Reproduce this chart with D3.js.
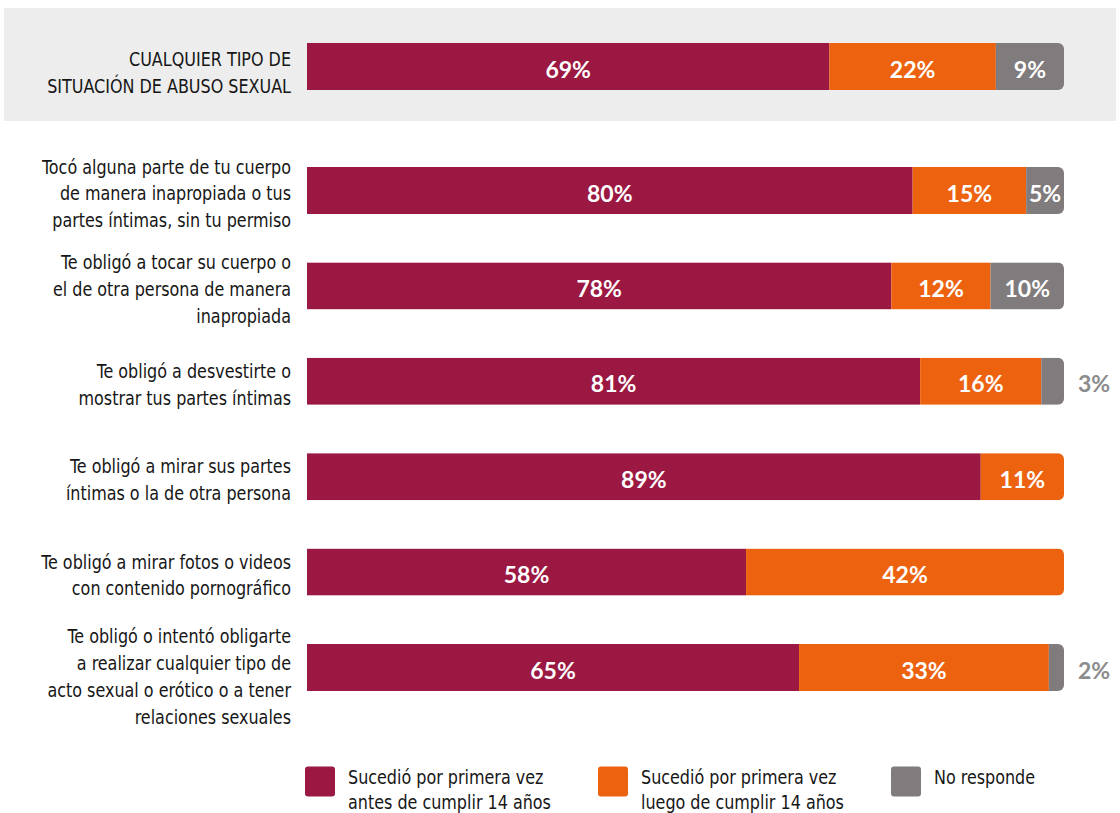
<!DOCTYPE html>
<html>
<head>
<meta charset="utf-8">
<script src="https://cdn.jsdelivr.net/npm/d3@7"></script>
<style>
  html, body { margin: 0; padding: 0; background: #ffffff; }
  svg { display: block; }
  .cat { font-family: "DejaVu Sans Condensed", "Liberation Sans Narrow", "Noto Sans", sans-serif; fill: #161616; }
  .val { font-family: Lato, "Open Sans", sans-serif; font-weight: 700; }
</style>
</head>
<body>
<svg id="chart" width="1120" height="813"></svg>
<script>
// ---- Data ----
const categories = [
  ["CUALQUIER TIPO DE", "SITUACIÓN DE ABUSO SEXUAL"],
  ["Tocó alguna parte de tu cuerpo", "de manera inapropiada o tus", "partes íntimas, sin tu permiso"],
  ["Te obligó a tocar su cuerpo o", "el de otra persona de manera", "inapropiada"],
  ["Te obligó a desvestirte o", "mostrar tus partes íntimas"],
  ["Te obligó a mirar sus partes", "íntimas o la de otra persona"],
  ["Te obligó a mirar fotos o videos", "con contenido pornográfico"],
  ["Te obligó o intentó obligarte", "a realizar cualquier tipo de", "acto sexual o erótico o a tener", "relaciones sexuales"]
];
// bar lengths as drawn (percent)
const antes14  = [69, 80, 77.2, 81, 89, 58, 65];
const luego14  = [22, 15, 13.1, 16, 11, 42, 33];
const noResp   = [9, 5, 9.7, 3, 0, 0, 2];
// printed labels
const antes14Labels = ["69%", "80%", "78%", "81%", "89%", "58%", "65%"];
const luego14Labels = ["22%", "15%", "12%", "16%", "11%", "42%", "33%"];
const noRespLabels  = ["9%", "5%", "10%", "3%", "", "", "2%"];
const seriesNames = [
  ["Sucedió por primera vez", "antes de cumplir 14 años"],
  ["Sucedió por primera vez", "luego de cumplir 14 años"],
  ["No responde"]
];
const colors = ["#9B1842", "#EC620F", "#807B7C"];

// ---- Layout ----
const svg = d3.select("#chart");
const x = d3.scaleLinear().domain([0, 100]).range([307, 1064]);
const barH = 47;
const yRest = d3.scalePoint().domain(d3.range(1, categories.length)).range([190.5, 667.5]);
const yCenter = i => i === 0 ? 66.5 : yRest(i);
const squeeze = 0.935;

// highlight band for the total row
svg.append("rect").attr("x", 4).attr("y", 8).attr("width", 1112).attr("height", 113).attr("fill", "#EDEDED");

const labelSets = [antes14Labels, luego14Labels, noRespLabels];
const rows = categories.map((c, i) => {
  const vals = [antes14[i], luego14[i], noResp[i]];
  let acc = 0;
  const segs = vals.map((v, k) => { const s = { k, v, x0: acc, x1: acc + v, label: labelSets[k][i] }; acc += v; return s; });
  return { i, label: c, segs };
});

const defs = svg.append("defs");
const r = 6;
rows.forEach(row => {
  const y0 = yCenter(row.i) - barH / 2;
  const xl = x(0), xr = x(100);
  const p = d3.path();
  p.moveTo(xl, y0);
  p.lineTo(xr - r, y0);
  p.arcTo(xr, y0, xr, y0 + r, r);
  p.lineTo(xr, y0 + barH - r);
  p.arcTo(xr, y0 + barH, xr - r, y0 + barH, r);
  p.lineTo(xl, y0 + barH);
  p.closePath();
  defs.append("clipPath").attr("id", "clip" + row.i).append("path").attr("d", p.toString());
});

const g = svg.selectAll("g.row").data(rows).enter().append("g").attr("class", "row");

g.append("g").attr("clip-path", d => `url(#clip${d.i})`)
  .selectAll("rect").data(d => d.segs.filter(s => s.v > 0).map(s => ({ ...s, i: d.i })))
  .enter().append("rect")
  .attr("x", s => x(s.x0))
  .attr("width", s => x(s.x1) - x(s.x0))
  .attr("y", s => yCenter(s.i) - barH / 2)
  .attr("height", barH)
  .attr("fill", s => colors[s.k]);

// value labels
g.selectAll("text.val").data(d => d.segs.filter(s => s.v > 0).map(s => ({ ...s, i: d.i })))
  .enter().append("text")
  .attr("class", "val")
  .attr("font-size", 23)
  .attr("text-anchor", "middle")
  .attr("x", s => s.v < 4 ? x(100) + 30 : (x(s.x0) + x(s.x1)) / 2)
  .attr("y", s => yCenter(s.i) + 11)
  .attr("fill", s => s.v < 4 ? "#8C8C8C" : "#ffffff")
  .text(s => s.label);

// category labels
const lh = 26.8;
g.append("g")
  .attr("transform", `translate(291,0) scale(${squeeze},1)`)
  .append("text")
  .attr("class", "cat")
  .attr("font-size", 19)
  .attr("text-anchor", "end")
  .each(function (d) {
    const n = d.label.length;
    const off = d.i === 0 ? 6 : (n === 4 ? 9 : 3);
    const base = yCenter(d.i) - (n - 1) / 2 * lh + 7 + off;
    d3.select(this).selectAll("tspan").data(d.label).enter().append("tspan")
      .attr("x", 0)
      .attr("y", (t, j) => base + j * lh)
      .text(t => t);
  });

// legend
const legX = [305, 598, 891];
const lg = svg.selectAll("g.leg").data(seriesNames).enter().append("g").attr("class", "leg");
lg.append("rect")
  .attr("x", (d, k) => legX[k]).attr("y", 766.5)
  .attr("width", 30).attr("height", 30).attr("rx", 3)
  .attr("fill", (d, k) => colors[k]);
lg.append("g")
  .attr("transform", (d, k) => `translate(${legX[k] + 43},0) scale(${squeeze},1)`)
  .append("text")
  .attr("class", "cat")
  .attr("font-size", 19)
  .each(function (d) {
    d3.select(this).selectAll("tspan").data(d).enter().append("tspan")
      .attr("x", 0)
      .attr("y", (t, j) => 784.5 + j * 24.5)
      .text(t => t);
  });
</script>
</body>
</html>
